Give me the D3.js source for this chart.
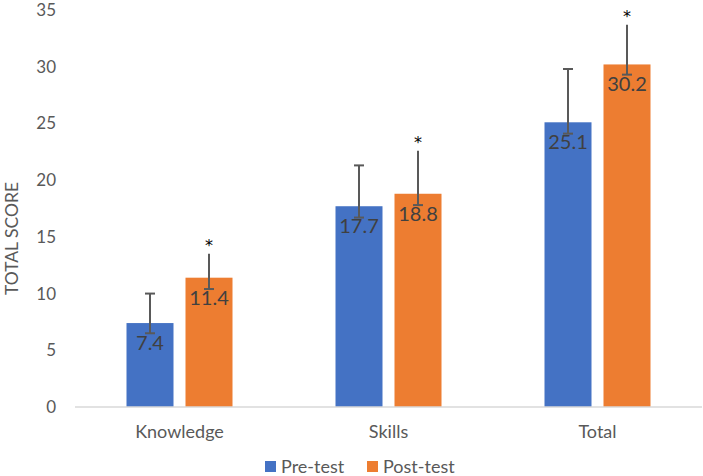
<!DOCTYPE html>
<html>
<head>
<meta charset="utf-8">
<script src="https://cdn.jsdelivr.net/npm/d3@7"></script>
<style>
  body { margin: 0; background: #fff; }
  svg { font-family: Lato, "Open Sans", sans-serif; }
</style>
</head>
<body>
<div id="chart"></div>
<script>
// data
const categories = ["Knowledge", "Skills", "Total"];
const seriesNames = ["Pre-test", "Post-test"];
const preTest = [7.4, 17.7, 25.1];
const postTest = [11.4, 18.8, 30.2];
const preErrUp = [2.6, 3.6, 4.7];
const preErrDown = [0.9, 1.0, 1.0];
const postErrUp = [2.1, 3.8, 3.5];
const postErrDown = [1.0, 1.0, 0.9];
const significant = [true, true, true];
const yTicks = [0, 5, 10, 15, 20, 25, 30, 35];

const colors = ["#4472c4", "#ed7d31"];
const W = 703, H = 476;
const margin = { top: 10, right: 1, bottom: 69, left: 75 };

const svg = d3.select("#chart").append("svg")
    .attr("width", W)
    .attr("height", H);

const x = d3.scaleBand()
    .domain(categories)
    .range([margin.left, W - margin.right])
    .paddingInner(0)
    .paddingOuter(0);

const y = d3.scaleLinear()
    .domain([0, 35])
    .range([H - margin.bottom, margin.top]);

const barW = 47, gap = 12;

// y tick labels (no axis line, no gridlines)
svg.append("g")
    .attr("transform", `translate(${margin.left},0)`)
    .call(d3.axisLeft(y).tickValues(yTicks).tickSize(0).tickPadding(19))
    .call(g => g.select(".domain").remove())
    .selectAll("text")
    .attr("fill", "#595959")
    .style("font-size", "17px")
    .style("font-family", "Lato, sans-serif");

// axis title
svg.append("text")
    .attr("transform", `translate(18,${(y(0) + y(35)) / 2 + 30}) rotate(-90)`)
    .attr("text-anchor", "middle")
    .attr("fill", "#595959")
    .style("font-size", "17.5px")
    .text("TOTAL SCORE");

// bars
const rows = categories.map((c, i) => [
    { cat: c, s: 0, v: preTest[i], up: preErrUp[i], dn: preErrDown[i], star: false },
    { cat: c, s: 1, v: postTest[i], up: postErrUp[i], dn: postErrDown[i], star: significant[i] }
]).flat();

const barX = d => x(d.cat) + x.bandwidth() / 2 + (d.s === 0 ? -(gap / 2 + barW) : gap / 2);

svg.selectAll(".bar")
    .data(rows)
    .enter()
    .append("rect")
    .attr("class", "bar")
    .attr("x", barX)
    .attr("width", barW)
    .attr("y", d => y(d.v))
    .attr("height", d => y(0) - y(d.v))
    .attr("fill", d => colors[d.s]);

// x axis line
svg.append("line")
    .attr("x1", margin.left).attr("x2", W - margin.right)
    .attr("y1", y(0)).attr("y2", y(0))
    .attr("stroke", "#d9d9d9")
    .attr("stroke-width", 1.3);

// error bars
const eb = svg.selectAll(".err")
    .data(rows)
    .enter()
    .append("g")
    .attr("class", "err")
    .attr("stroke", "#595959")
    .attr("stroke-width", 2);

eb.append("line")
    .attr("x1", d => barX(d) + barW / 2).attr("x2", d => barX(d) + barW / 2)
    .attr("y1", d => y(d.v + d.up)).attr("y2", d => y(d.v - d.dn));
eb.append("line")
    .attr("x1", d => barX(d) + barW / 2 - 5).attr("x2", d => barX(d) + barW / 2 + 5)
    .attr("y1", d => y(d.v + d.up)).attr("y2", d => y(d.v + d.up))
    .attr("display", d => d.s === 0 ? null : "none");
eb.append("line")
    .attr("x1", d => barX(d) + barW / 2 - 5).attr("x2", d => barX(d) + barW / 2 + 5)
    .attr("y1", d => y(d.v - d.dn)).attr("y2", d => y(d.v - d.dn));

// value labels
svg.selectAll(".lbl")
    .data(rows)
    .enter()
    .append("text")
    .attr("class", "lbl")
    .attr("x", d => barX(d) + barW / 2)
    .attr("y", d => y(d.v) + 27)
    .attr("text-anchor", "middle")
    .attr("fill", "#404040")
    .style("font-size", "20px")
    .text(d => d.v.toFixed(1));

// significance stars
svg.selectAll(".star")
    .data(rows.filter(d => d.star))
    .enter()
    .append("text")
    .attr("class", "star")
    .attr("x", d => barX(d) + barW / 2)
    .attr("y", d => y(d.v + d.up) - 3)
    .attr("text-anchor", "middle")
    .attr("fill", "#000")
    .style("font-family", "DejaVu Sans, sans-serif")
    .style("font-size", "16px")
    .text("*");

// category labels
svg.selectAll(".cat")
    .data(categories)
    .enter()
    .append("text")
    .attr("class", "cat")
    .attr("x", d => x(d) + x.bandwidth() / 2)
    .attr("y", y(0) + 31)
    .attr("text-anchor", "middle")
    .attr("fill", "#595959")
    .style("font-size", "18px")
    .text(d => d);

// legend
const legend = svg.append("g").attr("transform", "translate(265,461)");
const li = legend.selectAll("g")
    .data(seriesNames)
    .enter()
    .append("g")
    .attr("transform", (d, i) => `translate(${i * 102},0)`);
li.append("rect")
    .attr("width", 11).attr("height", 11)
    .attr("fill", (d, i) => colors[i]);
li.append("text")
    .attr("x", 16).attr("y", 12)
    .attr("fill", "#595959")
    .style("font-size", "18px")
    .text(d => d);
</script>
</body>
</html>
